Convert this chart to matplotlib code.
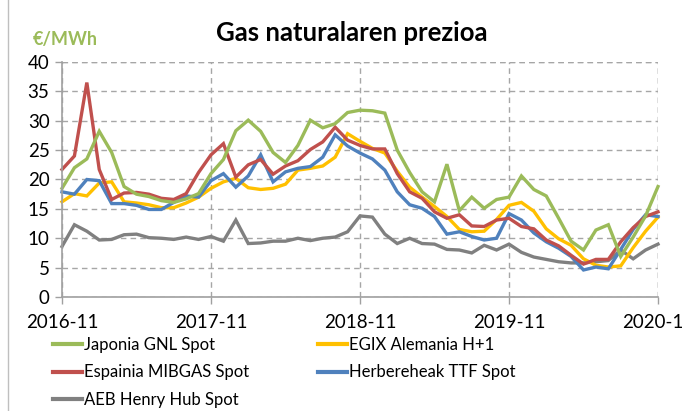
import matplotlib
matplotlib.use("Agg")
import matplotlib.pyplot as plt
from matplotlib.lines import Line2D

months = [f"{2016 + (10 + i) // 12}-{(10 + i) % 12 + 1:02d}" for i in range(49)]
tick_labels = ["2016-11", "2017-11", "2018-11", "2019-11", "2020-11"]

japonia = [18.5, 22.0, 23.5, 28.2, 24.6, 18.8, 17.5, 17.1, 16.4, 16.1, 16.7, 17.6,
           21.0, 23.4, 28.3, 30.1, 28.2, 24.6, 22.9, 25.8, 30.1, 28.8, 29.5, 31.4,
           31.8, 31.7, 31.3, 25.0, 21.2, 17.9, 16.2, 22.6, 14.7, 17.0, 15.1, 16.6,
           17.0, 20.6, 18.3, 17.2, 13.4, 9.5, 8.0, 11.4, 12.3, 6.9, 10.2, 13.8, 18.8]
egix = [16.2, 17.6, 17.2, 19.4, 19.6, 16.2, 16.0, 15.7, 15.2, 15.2, 16.0, 17.0,
        18.5, 19.6, 20.2, 18.6, 18.3, 18.5, 19.2, 21.6, 21.9, 22.3, 23.8, 27.8,
        26.5, 25.3, 24.5, 21.4, 18.7, 17.0, 15.4, 13.7, 11.5, 11.1, 11.2, 13.2,
        15.6, 16.1, 14.6, 11.6, 9.9, 8.8, 6.5, 5.4, 5.1, 5.3, 8.4, 11.2, 13.6]
mibgas = [21.7, 24.0, 36.5, 21.7, 16.6, 17.7, 17.8, 17.5, 16.8, 16.6, 17.6, 21.2,
          24.2, 26.1, 20.4, 22.5, 23.4, 20.9, 22.3, 23.2, 25.1, 26.4, 28.9, 26.7,
          25.8, 25.2, 25.2, 21.0, 17.9, 16.8, 14.5, 13.4, 14.0, 12.1, 12.0, 13.1,
          13.4, 12.0, 11.6, 9.7, 8.7, 7.1, 5.6, 6.4, 6.4, 9.4, 11.8, 13.7, 14.5]
ttf = [17.9, 17.5, 20.0, 19.8, 15.9, 15.9, 15.6, 14.9, 14.9, 16.1, 17.2, 17.0,
       19.8, 21.0, 18.7, 20.6, 24.2, 19.6, 21.3, 21.9, 22.2, 23.8, 27.6, 25.7,
       24.5, 23.5, 21.6, 17.9, 15.7, 15.1, 13.7, 10.7, 11.1, 10.3, 9.7, 10.0,
       14.2, 13.1, 10.9, 9.4, 8.3, 6.9, 4.6, 5.1, 4.8, 8.1, 11.5, 14.0, 13.7]
henry_hub = [8.6, 12.3, 11.2, 9.7, 9.8, 10.6, 10.7, 10.1, 10.0, 9.8, 10.2, 9.8,
             10.3, 9.5, 13.1, 9.1, 9.2, 9.5, 9.5, 10.0, 9.6, 10.0, 10.2, 11.1,
             13.8, 13.6, 10.7, 9.1, 10.0, 9.1, 9.0, 8.1, 8.0, 7.5, 8.8, 8.0,
             9.0, 7.6, 6.8, 6.4, 6.0, 5.8, 5.8, 6.0, 6.2, 8.0, 6.5, 8.0, 9.0]

series = [
    ("Japonia GNL Spot", japonia, "#9BBB59"),
    ("Espainia MIBGAS Spot", mibgas, "#C0504D"),
    ("AEB Henry Hub Spot", henry_hub, "#808080"),
    ("EGIX Alemania H+1", egix, "#FFC000"),
    ("Herbereheak TTF Spot", ttf, "#4F81BD"),
]
draw_order = [2, 3, 4, 1, 0]

plt.rcParams['font.family'] = ['Lato', 'DejaVu Sans']

W, H = 684, 411
fig = plt.figure(figsize=(W / 100, H / 100), dpi=100)
ax = fig.add_axes([62 / W, 1 - 297 / H, (658 - 62) / W, (297 - 62) / H])

x = list(range(len(months)))
handles = {}
for k in draw_order:
    name, vals, col = series[k]
    ln, = ax.plot(x, vals, color=col, lw=2.4, solid_joinstyle='miter', clip_on=False)
    handles[k] = ln

ax.set_xlim(0, len(months) - 1)
ax.set_ylim(0, 40)
ax.set_yticks(range(0, 41, 5))
ax.set_xticks([months.index(t) for t in tick_labels])
ax.set_xticklabels(tick_labels)
ax.tick_params(axis='both', labelsize=13.5, color='#A0A0A0', length=5, width=1, pad=4)
ax.tick_params(axis='x', pad=7)

for s in ['top', 'right']:
    ax.spines[s].set_visible(False)
for s in ['left', 'bottom']:
    ax.spines[s].set_color('#A0A0A0')
    ax.spines[s].set_linewidth(1.2)

ax.grid(True, axis='both', color='#A6A6A6', lw=1, ls=(0, (4, 3)))
ax.set_axisbelow(True)
ax.axhline(40, color='#A6A6A6', lw=1, ls=(0, (4, 3)), zorder=0)
ax.axvline(len(months) - 1, color='#A6A6A6', lw=1, ls=(0, (4, 3)), zorder=0)

fig.text(352 / W, 1 - 33 / H, "Gas naturalaren prezioa", ha='center', va='center',
         fontsize=18.5, fontweight='bold', color='#000000')
fig.text(33 / W, 1 - 39 / H, "€/MWh", ha='left', va='center',
         fontsize=13, fontweight='bold', color='#9BBB59')

leg = fig.legend([handles[k] for k in range(5)], [series[k][0] for k in range(5)],
                 ncol=2, loc='upper left', bbox_to_anchor=(53 / W, 1 - 337 / H),
                 frameon=False, fontsize=12, handlelength=1.75, handletextpad=0.12,
                 columnspacing=4.1, labelspacing=0.68, borderaxespad=0, borderpad=0)
for l in leg.get_lines():
    l.set_linewidth(3)

fig.add_artist(Line2D([8 / W, 8 / W], [0, 1], transform=fig.transFigure,
                      color='#BFBFBF', lw=1))

fig.savefig("out.png", dpi=100)
